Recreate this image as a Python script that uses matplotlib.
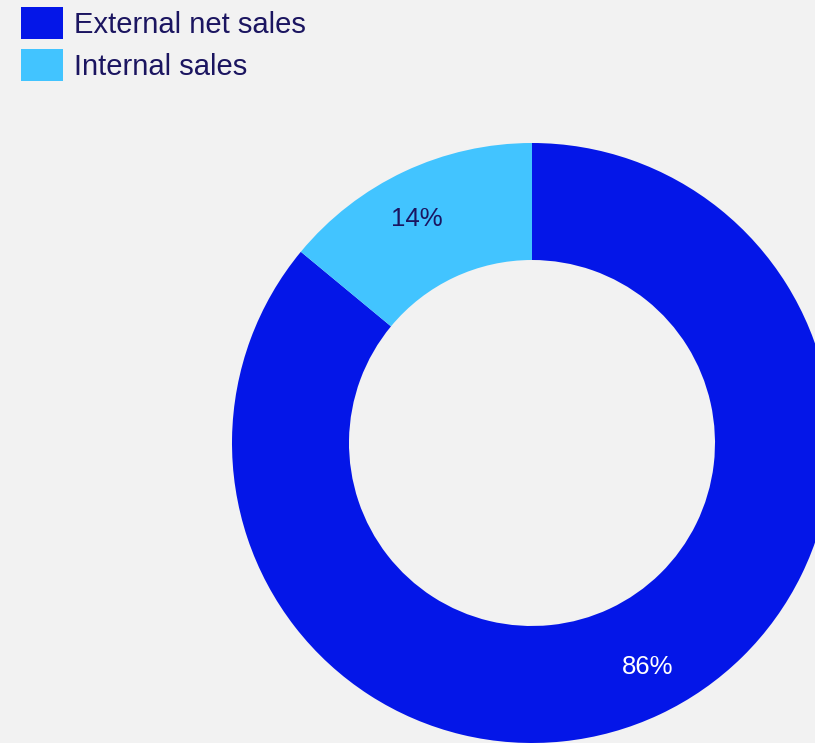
import matplotlib
matplotlib.use("Agg")
import numpy as np
import matplotlib.pyplot as plt
from matplotlib.patches import Patch

labels = ["External net sales", "Internal sales"]
shares = [86, 14]
colors = ["#0416E8", "#42C4FF"]
label_colors = ["white", "#1B1560"]

bg = "#F2F2F2"
navy = "#1B1560"
plt.rcParams["font.family"] = ["Liberation Sans", "DejaVu Sans"]

fig = plt.figure(figsize=(8.15, 7.43), dpi=100, facecolor=bg)
ax = fig.add_axes([0, 0, 1, 1])
ax.set_facecolor(bg)

wedges, _, autotexts = ax.pie(
    shares, colors=colors, startangle=90, counterclock=False,
    radius=1.0, wedgeprops=dict(width=0.39, linewidth=0),
    autopct="%d%%", pctdistance=0.84,
    textprops=dict(fontsize=18.5),
)
# turn the percentage labels a little anticlockwise on the ring
rot = np.deg2rad(2.0)
for t, c in zip(autotexts, label_colors):
    x, y = t.get_position()
    t.set_position((x * np.cos(rot) - y * np.sin(rot), x * np.sin(rot) + y * np.cos(rot)))
    t.set_color(c)

# 300 px per unit, donut centre at (532, 443) px from top-left
ax.set_xlim(-532 / 300, (815 - 532) / 300)
ax.set_ylim(-(743 - 443) / 300, 443 / 300)
ax.set_aspect("auto")
ax.axis("off")

handles = [Patch(facecolor=c, edgecolor="none") for c in colors]
leg = ax.legend(
    handles, labels, loc="upper left", bbox_to_anchor=(21 / 815, 1 - 7 / 743),
    frameon=False, fontsize=21, borderpad=0, borderaxespad=0,
    handlelength=1.45, handleheight=1.33, handletextpad=0.38, labelspacing=0.33,
)
for t in leg.get_texts():
    t.set_color(navy)

fig.savefig("out.png", dpi=100, facecolor=bg)
